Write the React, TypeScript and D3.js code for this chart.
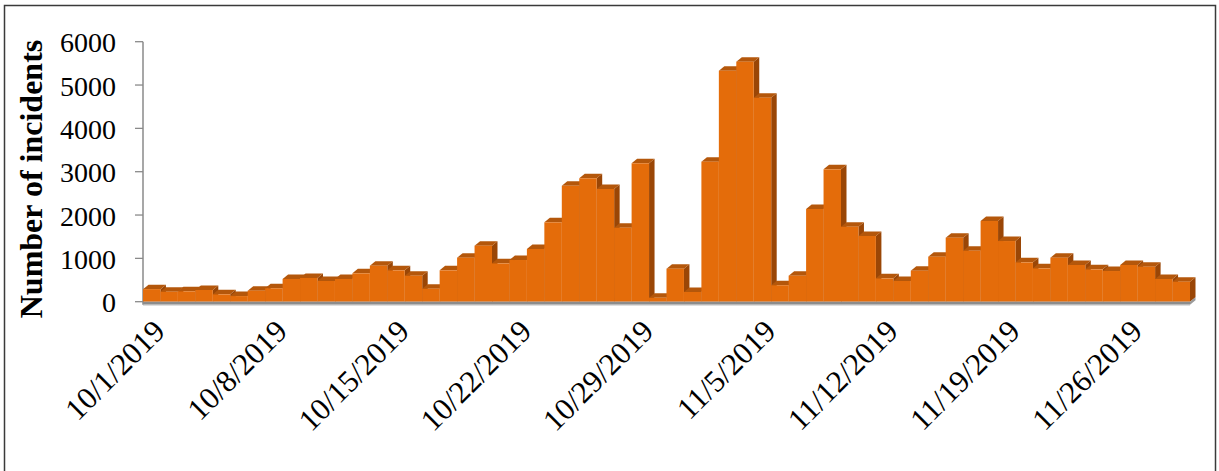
import React from "react";
import * as d3 from "d3";

// Daily incident counts, starting 10/1/2019
const startDate = new Date(2019, 9, 1);
const incidents = [
  290, 230, 240, 270, 170, 130, 255, 310, 525, 548,
  478, 525, 655, 831, 724, 600, 300, 724, 1016, 1293,
  885, 962, 1216, 1832, 2675, 2848, 2601, 1708, 3194, 92,
  762, 224, 3231, 5331, 5539, 4708, 380, 600, 2139, 3055,
  1731, 1516, 539, 478, 716, 1039, 1477, 1177, 1862, 1400,
  908, 770, 1016, 847, 747, 708, 847, 808, 524, 462,
];
const yTicks = [0, 1000, 2000, 3000, 4000, 5000, 6000];
const xTickLabels = [
  "10/1/2019", "10/8/2019", "10/15/2019", "10/22/2019", "10/29/2019",
  "11/5/2019", "11/12/2019", "11/19/2019", "11/26/2019",
];
const yTitle = "Number of incidents";

const W = 1219;
const H = 471;
const plot = { left: 143, right: 1190, top: 41.7, bottom: 301.7 };
const DX = 5.5; // receding depth, horizontal
const DY = 4.5; // receding depth, vertical
const FONT = "'Liberation Serif', 'Times New Roman', serif";

const FRONT = "#E46C0A";
const TOP = "#B4570B";
const SIDE = "#9A4606";

export default function App() {
  const fmt = d3.timeFormat("%-m/%-d/%Y");
  const labels = incidents.map((_, i) => fmt(d3.timeDay.offset(startDate, i)));

  const x = d3
    .scaleBand<string>()
    .domain(labels)
    .range([plot.left, plot.right])
    .padding(0);
  const y = d3.scaleLinear().domain([0, 6000]).range([plot.bottom, plot.top]);
  const bw = x.bandwidth();
  const y0 = y(0);

  const bars = incidents.map((v, i) => {
    const xl = x(labels[i]) as number;
    const xr = xl + bw;
    const yv = y(v);
    const side = [
      [xr, yv],
      [xr + DX, yv - DY],
      [xr + DX, y0 - DY],
      [xr, y0],
    ];
    const top = [
      [xl, yv],
      [xl + DX, yv - DY],
      [xr + DX, yv - DY],
      [xr, yv],
    ];
    const pts = (p: number[][]) => p.map((q) => q.join(",")).join(" ");
    return (
      <g key={labels[i]}>
        <polygon points={pts(side)} fill={SIDE} />
        <polygon points={pts(top)} fill={TOP} />
        <rect x={xl} y={yv} width={bw} height={y0 - yv} fill={FRONT} />
      </g>
    );
  });

  const floorH = 3;
  const floorEnd = [
    [plot.right, y0],
    [plot.right + DX, y0 - DY],
    [plot.right + DX, y0 - DY + floorH],
    [plot.right, y0 + floorH],
  ]
    .map((q) => q.join(","))
    .join(" ");

  return (
    <svg
      width={W}
      height={H}
      style={{ position: "fixed", left: 0, top: 0, background: "#fff" }}
    >
      <rect x={0} y={0} width={W} height={H} fill="#fff" />
      <rect
        x={4.5}
        y={5.5}
        width={1211}
        height={490}
        fill="none"
        stroke="#3a3a3a"
        strokeWidth={1.5}
      />

      {/* value axis */}
      <line
        x1={plot.left}
        x2={plot.left}
        y1={plot.top}
        y2={plot.bottom + floorH}
        stroke="#8a8a8a"
        strokeWidth={1.5}
      />
      {yTicks.map((t) => (
        <g key={t}>
          <line
            x1={plot.left - 8}
            x2={plot.left}
            y1={y(t)}
            y2={y(t)}
            stroke="#8a8a8a"
            strokeWidth={1.3}
          />
          <text
            x={116}
            y={y(t) + 10.5}
            textAnchor="end"
            fontFamily={FONT}
            fontSize={28}
            fill="#000"
          >
            {t}
          </text>
        </g>
      ))}
      <text
        transform={`translate(42,${179}) rotate(-90)`}
        textAnchor="middle"
        fontFamily={FONT}
        fontSize={32}
        fontWeight="bold"
        fill="#000"
      >
        {yTitle}
      </text>

      {/* 3D columns, painted left to right */}
      {bars}

      {/* floor slab */}
      <rect
        x={plot.left}
        y={y0}
        width={plot.right - plot.left}
        height={floorH}
        fill="#8c8c8c"
      />
      <polygon points={floorEnd} fill="#9a9a9a" />
      <line
        x1={plot.left}
        x2={plot.right}
        y1={y0 + floorH + 0.5}
        y2={y0 + floorH + 0.5}
        stroke="#d0d0d0"
        strokeWidth={1}
      />

      {/* category labels */}
      {xTickLabels.map((lab) => {
        const cx = (x(lab) as number) + bw / 2;
        return (
          <text
            key={lab}
            transform={`translate(${cx + 15},333) rotate(-45)`}
            textAnchor="end"
            fontFamily={FONT}
            fontSize={31}
            fill="#000"
          >
            {lab}
          </text>
        );
      })}
    </svg>
  );
}
